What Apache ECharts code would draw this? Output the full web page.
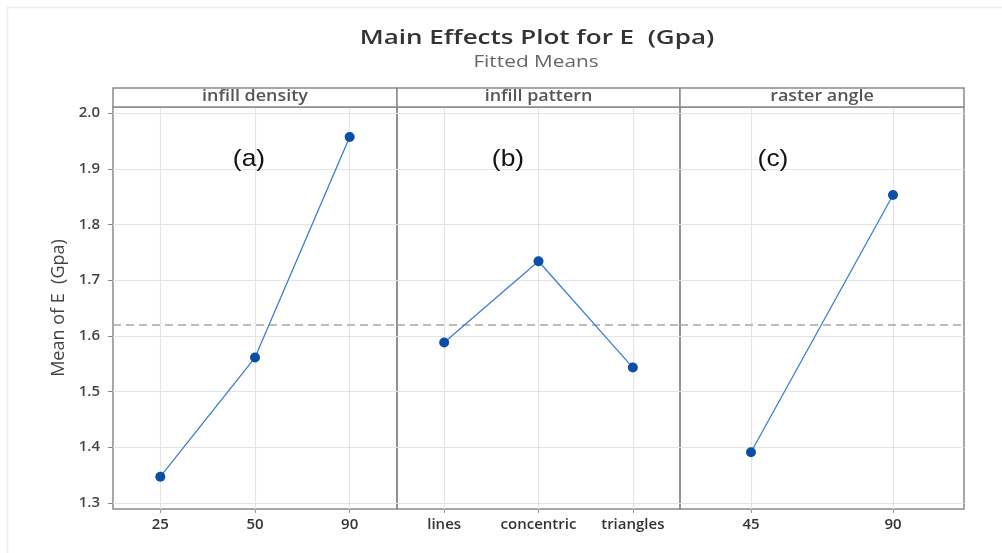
<!DOCTYPE html>
<html>
<head>
<meta charset="utf-8">
<script src="https://cdn.jsdelivr.net/npm/echarts@6/dist/echarts.min.js"></script>
<style>
  html, body { margin: 0; padding: 0; background: #fff; }
  #chart { width: 1002px; height: 553px; }
</style>
</head>
<body>
<div id="chart"></div>
<script>
// Factor levels and fitted means of E (Gpa)
const densityLevels = ['25', '50', '90'];
const densityMeans = [1.347, 1.561, 1.957];

const patternLevels = ['lines', 'concentric', 'triangles'];
const patternMeans = [1.588, 1.734, 1.543];

const angleLevels = ['45', '90'];
const angleMeans = [1.391, 1.853];

const panelTitles = ['infill density', 'infill pattern', 'raster angle'];
const panelTags = ['(a)', '(b)', '(c)'];

const chartTitle = 'Main Effects Plot for E  (Gpa)';
const chartSubtitle = 'Fitted Means';
const yAxisTitle = 'Mean of E  (Gpa)';

// Overall mean shown as the dashed reference line
const grandMean = 1.622;

// Y axis tick values
const yTicks = [1.3, 1.4, 1.5, 1.6, 1.7, 1.8, 1.9, 2.0];
const yMin = 1.289, yMax = 2.011;

const panels = [
  { levels: densityLevels, means: densityMeans },
  { levels: patternLevels, means: patternMeans },
  { levels: angleLevels, means: angleMeans }
];

// Panel layout (pixels)
const panelLeft = [113, 397, 680];
const panelWidth = [284, 283, 284];
const plotTop = 107, plotBottom = 509;
const headerTop = 88;

const frameColor = '#8a8a8a';
const gridColor = '#e4e4e4';
const labelFont = '"Open Sans", "Noto Sans", sans-serif';

const chart = echarts.init(document.getElementById('chart'));

const grids = panels.map((p, i) => ({
  left: panelLeft[i],
  width: panelWidth[i],
  top: plotTop,
  height: plotBottom - plotTop,
  show: true,
  borderColor: frameColor,
  borderWidth: 1.5,
  backgroundColor: 'transparent'
}));

const xAxes = panels.map((p, i) => ({
  type: 'category',
  gridIndex: i,
  data: p.levels,
  boundaryGap: true,
  axisLine: { show: false },
  axisTick: { show: true, alignWithLabel: true, interval: 0, length: 4, lineStyle: { color: '#999' } },
  axisLabel: {
    interval: 0,
    hideOverlap: false,
    margin: 8,
    color: '#333',
    fontSize: 15,
    fontWeight: 600,
    fontFamily: labelFont
  },
  splitLine: { show: true, alignWithLabel: true, interval: 0, lineStyle: { color: gridColor, width: 1.2 } }
}));

const yAxes = panels.map((p, i) => ({
  type: 'value',
  gridIndex: i,
  min: yMin,
  max: yMax,
  axisLine: { show: false },
  axisTick: { show: i === 0, length: 5, customValues: yTicks, lineStyle: { color: '#888' } },
  axisLabel: {
    show: i === 0,
    customValues: yTicks,
    margin: 13,
    color: '#444',
    fontSize: 15,
    fontWeight: 600,
    fontFamily: labelFont,
    formatter: v => v.toFixed(1)
  },
  splitLine: { show: true, lineStyle: { color: gridColor, width: 1.2 } },
  name: i === 0 ? yAxisTitle : '',
  nameLocation: 'middle',
  nameGap: 45,
  nameTextStyle: { color: '#444', fontSize: 18, fontFamily: labelFont }
}));

const series = panels.map((p, i) => ({
  type: 'line',
  xAxisIndex: i,
  yAxisIndex: i,
  data: p.means,
  symbol: 'circle',
  symbolSize: 10,
  itemStyle: { color: '#0a4ea6' },
  lineStyle: { color: '#3a7fd2', width: 1.3 },
  z: 5,
  markLine: {
    silent: true,
    symbol: 'none',
    label: { show: false },
    lineStyle: { color: '#a6a6a6', type: [8, 5], width: 1.6 },
    data: [{ yAxis: grandMean }]
  }
}));

// Strip headers above each panel, title lines, panel tags and the faint outer frame
const graphics = [];
panels.forEach((p, i) => {
  graphics.push({
    type: 'rect',
    shape: { x: panelLeft[i], y: headerTop, width: panelWidth[i], height: plotTop - headerTop },
    style: { fill: '#fff', stroke: frameColor, lineWidth: 1.5 },
    z: 10
  });
  graphics.push({
    type: 'text',
    x: panelLeft[i] + panelWidth[i] / 2,
    y: headerTop + (plotTop - headerTop) / 2 - 1,
    scaleX: 1.12,
    style: {
      text: panelTitles[i],
      fill: '#555',
      font: '600 16px ' + labelFont,
      textAlign: 'center',
      textVerticalAlign: 'middle'
    },
    z: 11
  });
});
graphics.push({
  type: 'text',
  x: 537,
  y: 38,
  scaleX: 1.3,
  style: {
    text: chartTitle,
    fill: '#333',
    font: '600 20px ' + labelFont,
    textAlign: 'center',
    textVerticalAlign: 'middle'
  },
  z: 11
});
graphics.push({
  type: 'text',
  x: 536,
  y: 62,
  scaleX: 1.3,
  style: {
    text: chartSubtitle,
    fill: '#666',
    font: '16px ' + labelFont,
    textAlign: 'center',
    textVerticalAlign: 'middle'
  },
  z: 11
});
const tagX = [249, 508, 773];
panelTags.forEach((t, i) => {
  graphics.push({
    type: 'text',
    x: tagX[i],
    y: 159,
    scaleX: 1.1,
    style: {
      text: t,
      fill: '#111',
      font: '24px "Liberation Sans", "Open Sans", sans-serif',
      textAlign: 'center',
      textVerticalAlign: 'middle'
    },
    z: 11
  });
});
graphics.push({
  type: 'polyline',
  shape: { points: [[7.5, 553], [7.5, 7.5], [1002, 7.5]] },
  style: { stroke: '#ececec', lineWidth: 1.5, fill: null },
  z: 0
});

chart.setOption({
  backgroundColor: '#fff',
  animation: false,
  grid: grids,
  xAxis: xAxes,
  yAxis: yAxes,
  series: series,
  graphic: graphics
});
</script>
</body>
</html>
